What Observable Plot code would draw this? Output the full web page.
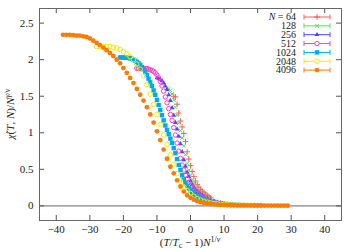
<!DOCTYPE html>
<html><head><meta charset="utf-8">
<script src="https://cdn.jsdelivr.net/npm/d3@7"></script>
<script src="https://cdn.jsdelivr.net/npm/@observablehq/plot@0.6"></script>
<style>
body{margin:0;background:#fff;}
#wrap{position:relative;width:360px;height:251px;font-family:"Liberation Serif",serif;}
#wrap svg{position:absolute;left:0;top:0;}
</style></head><body><div id="wrap"></div>
<script>
// ---- data: [scaled x, chi] per lattice size N ----
const sizes = [64, 128, 256, 512, 1024, 2048, 4096];
const d64 = [[-5,1.50],[-4.5,1.49],[-4,1.39],[-3.5,1.27],[-3,1.16],[-2.5,1.08],[-2,0.99],[-1.5,0.88],[-1,0.74],[-0.5,0.64],[0,0.55],[0.5,0.47],[1,0.40],[1.5,0.34],[2,0.29],[2.5,0.255],[3,0.225],[3.5,0.20],[4,0.18],[4.5,0.16],[5,0.14],[5.5,0.125],[6,0.11]];
const d128 = [[-7,1.61],[-6.5,1.60],[-6,1.58],[-5.5,1.53],[-5,1.45],[-4.5,1.35],[-4,1.24],[-3.5,1.13],[-3,1.03],[-2.5,0.93],[-2,0.82],[-1.5,0.70],[-1,0.58],[-0.5,0.49],[0,0.42],[0.5,0.36],[1,0.31],[1.5,0.27],[2,0.235],[2.5,0.21],[3,0.19],[3.5,0.17],[4,0.15],[5,0.12],[6,0.095],[7,0.075]];
const d256 = [[-10,1.75],[-9.5,1.74],[-9,1.73],[-8.5,1.71],[-8,1.68],[-7.5,1.64],[-7,1.59],[-6.5,1.52],[-6,1.44],[-5.5,1.34],[-5,1.24],[-4.5,1.14],[-4,1.05],[-3.5,0.95],[-3,0.85],[-2.5,0.74],[-2,0.63],[-1.5,0.54],[-1,0.46],[-0.5,0.40],[0,0.34],[0.5,0.29],[1,0.25],[1.5,0.22],[2,0.195],[2.5,0.175],[3,0.155],[3.5,0.14],[4,0.125],[5,0.10],[6,0.08],[7,0.065],[8,0.052],[9,0.042]];
const d512 = [[-16,1.88],[-15.5,1.88],[-15,1.88],[-14.5,1.88],[-14,1.88],[-13.5,1.88],[-13,1.88],[-12.5,1.87],[-12,1.86],[-11.5,1.855],[-11,1.84],[-10.5,1.82],[-10,1.79],[-9.5,1.75],[-9,1.70],[-8.5,1.64],[-8,1.57],[-7.5,1.49],[-7,1.41],[-6.5,1.33],[-6,1.25],[-5.5,1.17],[-5,1.07],[-4.5,0.97],[-4,0.86],[-3.5,0.75],[-3,0.65],[-2.5,0.56],[-2,0.49],[-1.5,0.42],[-1,0.37],[-0.5,0.32],[0,0.28],[0.5,0.25],[1,0.22],[1.5,0.195],[2,0.17],[2.5,0.15],[3,0.13],[3.5,0.115],[4,0.10],[4.5,0.09],[5,0.08],[6,0.063],[7,0.05],[8,0.04],[9,0.033],[10,0.027],[11,0.022],[12,0.018]];
const d1024 = [[-21,2.03],[-20.5,2.03],[-20,2.03],[-19.5,2.03],[-19,2.03],[-18.5,2.025],[-18,2.02],[-17.5,2.01],[-17,2.00],[-16.5,1.985],[-16,1.97],[-15.5,1.95],[-15,1.93],[-14.5,1.90],[-14,1.87],[-13.5,1.83],[-13,1.79],[-12.5,1.74],[-12,1.69],[-11.5,1.64],[-11,1.58],[-10.5,1.52],[-10,1.45],[-9.5,1.38],[-9,1.31],[-8.5,1.24],[-8,1.17],[-7.5,1.10],[-7,1.04],[-6.5,0.98],[-6,0.92],[-5.5,0.86],[-5,0.79],[-4.5,0.72],[-4,0.64],[-3.5,0.56],[-3,0.49],[-2.5,0.42],[-2,0.36],[-1.5,0.31],[-1,0.275],[-0.5,0.24],[0,0.21],[0.5,0.185],[1,0.165],[1.5,0.145],[2,0.13],[2.5,0.115],[3,0.10],[3.5,0.09],[4,0.08],[4.5,0.072],[5,0.065],[5.5,0.058],[6,0.052],[7,0.043],[8,0.036],[9,0.03],[10,0.025],[11,0.021],[12,0.018],[13,0.015],[14,0.013],[15,0.011],[16,0.01]];
const d2048 = [[-28,2.18],[-27,2.18],[-26,2.18],[-25,2.18],[-24,2.18],[-23,2.17],[-22,2.16],[-21,2.14],[-20,2.11],[-19,2.08],[-18,2.04],[-17,2.00],[-16,1.94],[-15,1.87],[-14,1.78],[-13,1.66],[-12,1.53],[-11,1.39],[-10,1.25],[-9,1.11],[-8,0.97],[-7,0.84],[-6,0.70],[-5,0.57],[-4,0.44],[-3,0.34],[-2,0.26],[-1,0.21],[0,0.17],[1,0.13],[2,0.10],[3,0.08],[4,0.062],[5,0.05],[6,0.04],[7,0.033],[8,0.027],[9,0.022],[10,0.018],[11,0.016],[12,0.014],[13,0.012],[14,0.011],[15,0.01],[16,0.009],[17,0.008],[18,0.007],[19,0.007],[20,0.006],[21,0.006]];
const d4096 = [[-38,2.34],[-37,2.34],[-36,2.34],[-35,2.335],[-34,2.33],[-33,2.33],[-32,2.32],[-31,2.31],[-30,2.29],[-29,2.26],[-28,2.23],[-27,2.20],[-26,2.165],[-25,2.13],[-24,2.09],[-23,2.05],[-22,2.00],[-21,1.95],[-20,1.885],[-19,1.82],[-18,1.75],[-17,1.68],[-16,1.60],[-15,1.52],[-14,1.44],[-13,1.35],[-12,1.25],[-11,1.14],[-10,1.02],[-9,0.90],[-8,0.77],[-7,0.645],[-6,0.535],[-5,0.445],[-4,0.35],[-3,0.265],[-2,0.195],[-1,0.145],[0,0.11],[1,0.085],[2,0.065],[3,0.05],[4,0.04],[5,0.032],[6,0.026],[7,0.021],[8,0.018],[9,0.015],[10,0.013],[11,0.011],[12,0.01],[13,0.009],[14,0.008],[15,0.007],[16,0.007],[17,0.006],[18,0.006],[19,0.005],[20,0.005],[21,0.005],[22,0.004],[23,0.004],[24,0.004],[25,0.004],[26,0.003],[27,0.003],[28,0.003],[29,0.003]];
const seriesData = [d64, d128, d256, d512, d1024, d2048, d4096];
const xTicks = [-40, -30, -20, -10, 0, 10, 20, 30, 40];
const yTicks = [0, 0.5, 1, 1.5, 2, 2.5];
const legendLabels = ["64", "128", "256", "512", "1024", "2048", "4096"];

// ---- styles ----
const colors = ["#ff5a5a", "#55e055", "#4848ff", "#ff3ccc", "#00aaf0", "#f2ee00", "#ff7a00"];
const symbols = ["plus", "times", "triangle", "circle", "square", "circle", "circle"];
const filled = [false, false, true, false, true, false, true];
const radii = [2.0, 1.8, 1.8, 2.2, 2.5, 2.3, 2.4];

const W = 360, H = 251, mL = 39, mR = 19, mT = 8, mB = 31;
const iW = W - mL - mR, iH = H - mT - mB, tk = 5;
const fmt = d => d < 0 ? "\u2212" + (-d) : String(d);

const dotMarks = seriesData.map((pts, i) => Plot.dot(pts.map(p => ({x: p[0], y: p[1]})), {
  x: "x", y: "y", symbol: () => symbols[i], r: radii[i],
  fill: filled[i] ? colors[i] : "none",
  stroke: filled[i] ? "none" : colors[i], strokeWidth: 1
}));

const chart = Plot.plot({
  width: W, height: H, marginLeft: mL, marginRight: mR, marginTop: mT, marginBottom: mB,
  style: {fontFamily: "'Liberation Serif', serif", fontSize: "11px", background: "white"},
  x: {domain: [-45, 45]},
  y: {domain: [-0.2, 2.7]},
  symbol: {type: "identity"},
  marks: [
    Plot.ruleY([0], {stroke: "#a8a8a8", strokeWidth: 1.6}),
    ...dotMarks,
    Plot.tickX(xTicks, {x: d => d, insetTop: iH - tk, stroke: "#555"}),
    Plot.tickX(xTicks, {x: d => d, insetBottom: iH - tk, stroke: "#555"}),
    Plot.tickY(yTicks, {y: d => d, insetRight: iW - tk, stroke: "#555"}),
    Plot.tickY(yTicks, {y: d => d, insetLeft: iW - tk, stroke: "#555"}),
    Plot.axisX(xTicks, {tickSize: 0, tickPadding: 5, tickFormat: fmt, label: null, fill: "#222"}),
    Plot.axisY(yTicks, {tickSize: 0, tickPadding: 6, tickFormat: fmt, label: null, fill: "#222"}),
    Plot.frame({stroke: "#666"})
  ]
});
const wrap = document.getElementById("wrap");
wrap.appendChild(chart);

// ---- axis titles ----
const svg = d3.select(chart);
const xl = svg.append("text").attr("x", 190).attr("y", 246).attr("text-anchor", "middle")
  .attr("font-size", 11).attr("fill", "#222");
xl.append("tspan").text("(");
xl.append("tspan").attr("font-style", "italic").text("T");
xl.append("tspan").text("/");
xl.append("tspan").attr("font-style", "italic").text("T");
xl.append("tspan").attr("font-size", 8).attr("dy", 2).text("c");
xl.append("tspan").attr("dy", -2).text(" \u2212 1)");
xl.append("tspan").attr("font-style", "italic").text("N");
xl.append("tspan").attr("font-size", 8).attr("dy", -4).text("1/");
xl.append("tspan").attr("font-size", 8).attr("font-style", "italic").text("\u03bd");

const yl = svg.append("text").attr("transform", "translate(14,114) rotate(-90)")
  .attr("text-anchor", "middle").attr("font-size", 11).attr("fill", "#222");
yl.append("tspan").attr("font-style", "italic").text("\u03c7\u0303");
yl.append("tspan").text("(");
yl.append("tspan").attr("font-style", "italic").text("T");
yl.append("tspan").text(", ");
yl.append("tspan").attr("font-style", "italic").text("N");
yl.append("tspan").text(")/");
yl.append("tspan").attr("font-style", "italic").text("N");
yl.append("tspan").attr("font-size", 8).attr("font-style", "italic").attr("dy", -4).text("\u03b3/\u03bd");

// ---- key (one multi-line text block + samples) ----
const key = svg.append("g");
const rowGap = 8.85, row0 = 17;
const symMap = {plus: d3.symbolPlus, times: d3.symbolTimes, triangle: d3.symbolTriangle, circle: d3.symbolCircle, square: d3.symbolSquare};
const kt = key.append("text").attr("x", 296).attr("y", row0 + 3.3).attr("text-anchor", "end")
  .attr("font-size", 10).attr("fill", "#222");
legendLabels.forEach((lab, i) => {
  const yy = row0 + i * rowGap;
  if (i === 0) {
    kt.append("tspan").attr("x", 296).attr("y", yy + 3.3).attr("font-style", "italic").text("N");
    kt.append("tspan").text(" = " + lab);
  } else {
    kt.append("tspan").attr("x", 296).attr("y", yy + 3.3).text(lab);
  }
  key.append("line").attr("x1", 304).attr("x2", 330).attr("y1", yy).attr("y2", yy)
    .attr("stroke", colors[i]).attr("stroke-width", 1);
  [304, 330].forEach(cx => key.append("line").attr("x1", cx).attr("x2", cx)
    .attr("y1", yy - 2.5).attr("y2", yy + 2.5).attr("stroke", colors[i]));
  key.append("path").attr("transform", `translate(317,${yy})`)
    .attr("d", d3.symbol(symMap[symbols[i]], Math.PI * radii[i] * radii[i])())
    .attr("fill", filled[i] ? colors[i] : "white")
    .attr("stroke", filled[i] ? "none" : colors[i]);
});
</script></body></html>
